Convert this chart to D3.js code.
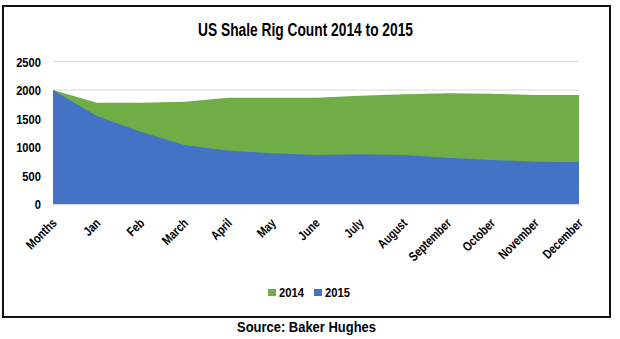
<!DOCTYPE html>
<html><head><meta charset="utf-8">
<script src="https://cdn.jsdelivr.net/npm/d3@7"></script>
<style>
body{margin:0;background:#fff;}
text{font-family:"Liberation Sans",Arial,sans-serif;font-weight:bold;}
</style></head>
<body><svg id="c" width="620" height="339"></svg>
<script>
const categories = ["Months","Jan","Feb","March","April","May","June","July","August","September","October","November","December"];
const series2014 = [2000,1777,1775,1795,1865,1865,1865,1900,1924,1942,1935,1912,1912];
const series2015 = [2000,1544,1269,1035,935,889,860,871,860,813,772,743,737];
const yTicks = [0,500,1000,1500,2000,2500];
const seriesNames = ["2014","2015"];
const colors = ["#70AD47","#4472C4"];
const FONT = '"Liberation Sans",Arial,sans-serif';

const svg = d3.select("#c");
svg.append("rect").attr("x",3).attr("y",6).attr("width",607).attr("height",311)
  .attr("fill","#fff").attr("stroke","#111").attr("stroke-width",2);

const x = d3.scalePoint().domain(categories).range([53,579]);
const y = d3.scaleLinear().domain([0,2500]).range([204,61.5]);

// gridlines
svg.append("g").selectAll("line").data(yTicks).join("line")
  .attr("x1",53).attr("x2",579).attr("y1",d=>y(d)).attr("y2",d=>y(d))
  .attr("stroke","#d9d9d9").attr("stroke-width",1);

const area = d3.area().x((d,i)=>x(categories[i])).y0(y(0)).y1(d=>y(d));
[series2014,series2015].forEach((s,k)=>{
  svg.append("path").datum(s).attr("d",area).attr("fill",colors[k]);
});

// y axis
const ya = svg.append("g").attr("transform","translate(41,0)")
  .call(d3.axisLeft(y).tickValues(yTicks).tickFormat(d3.format("d")).tickSize(0).tickPadding(0));
ya.select(".domain").remove();
ya.selectAll(".tick text").attr("font-size",13).attr("fill","#000").attr("x",0).attr("dy","0.36em")
  .style("font-family",FONT).style("font-weight","bold")
  .attr("transform","scale(0.86,1)");

// x axis
const xa = svg.append("g").attr("transform","translate(0,204)")
  .call(d3.axisBottom(x).tickSize(0).tickPadding(0));
xa.select(".domain").attr("stroke","#d9d9d9");
xa.selectAll(".tick text").attr("font-size",13).attr("fill","#000")
  .style("font-family",FONT).style("font-weight","bold")
  .attr("text-anchor","end").attr("dy",0).attr("y",0)
  .attr("transform","translate(4,20) rotate(-45) scale(0.8,1)");

// title
svg.append("text").attr("x",305.5).attr("y",36).attr("text-anchor","middle")
  .attr("font-size",18).attr("fill","#000")
  .attr("textLength",215).attr("lengthAdjust","spacingAndGlyphs")
  .text("US Shale Rig Count 2014 to 2015");

// legend
const lg = svg.append("g");
const lx = [268,314];
seriesNames.forEach((n,i)=>{
  lg.append("rect").attr("x",lx[i]).attr("y",289).attr("width",8).attr("height",7).attr("fill",colors[i]);
  lg.append("text").attr("x",lx[i]+11).attr("y",297).attr("font-size",13).attr("fill","#000")
    .attr("textLength",25).attr("lengthAdjust","spacingAndGlyphs").text(n);
});

// source
svg.append("text").attr("x",306.5).attr("y",332).attr("text-anchor","middle")
  .attr("font-size",15).attr("fill","#000")
  .attr("textLength",139).attr("lengthAdjust","spacingAndGlyphs")
  .text("Source: Baker Hughes");
</script></body></html>
